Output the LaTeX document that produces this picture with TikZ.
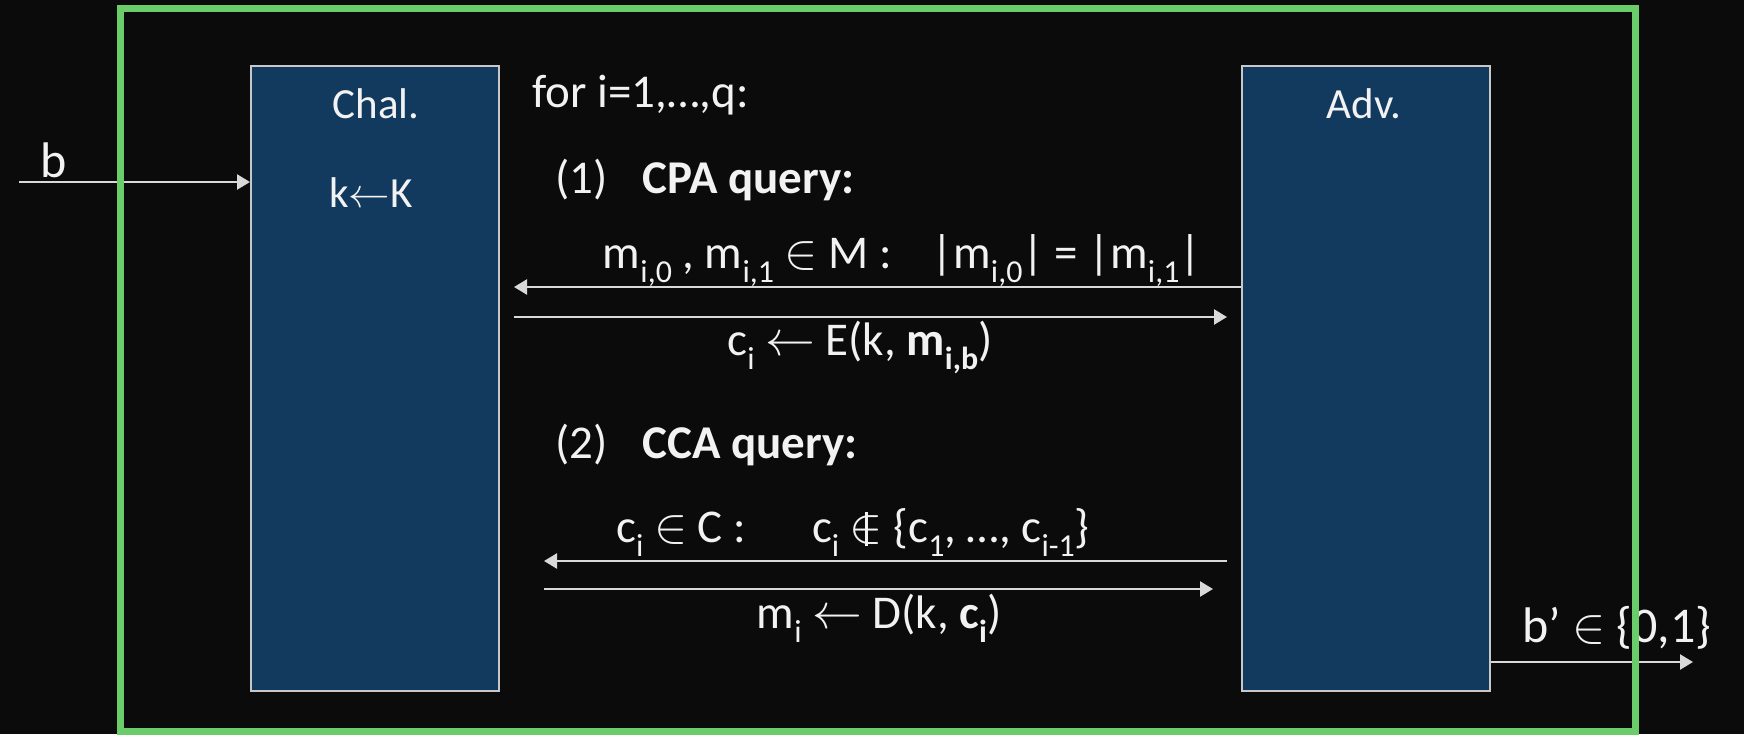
\documentclass[tikz,border=0pt]{standalone}
\usepackage{fontspec}
\setmainfont{Carlito}
\usepackage{graphicx}
\usetikzlibrary{arrows.meta}
\definecolor{bg}{HTML}{0B0B0B}
\definecolor{boxfill}{HTML}{123A5E}
\definecolor{boxline}{HTML}{C8C8C8}
\definecolor{framecol}{HTML}{6ACD6A}
\definecolor{fg}{HTML}{F2F2F2}
\definecolor{arr}{HTML}{D9D9D9}
\newcommand{\lsub}[1]{\raisebox{-0.3em}{\scalebox{0.68}{#1}}}
\newcommand{\vnotin}{\ooalign{$\in$\cr\hidewidth\rule[-0.08em]{0.05em}{0.72em}\hidewidth\cr}}
\begin{document}
\begin{tikzpicture}[x=0.5pt,y=-0.5pt,
  party/.style={draw=boxline, line width=1pt, fill=boxfill, minimum width=124pt, minimum height=312.5pt, inner sep=0pt},
  lbl/.style={text=fg, inner sep=0pt, font=\fontsize{21.5pt}{26pt}\selectfont},
  txt/.style={text=fg, inner sep=0pt, font=\fontsize{23.5pt}{28pt}\selectfont},
  txtb/.style={text=fg, inner sep=0pt, font=\fontsize{23.5pt}{28pt}\selectfont\bfseries},
  big/.style={text=fg, inner sep=0pt, font=\fontsize{25pt}{30pt}\selectfont},
  msg/.style={draw=arr, line width=1.2pt, -{Triangle[length=6.5pt,width=7.5pt]}},
  greenframe/.style={draw=framecol, line width=3.5pt, minimum width=757.5pt, minimum height=361.5pt, inner sep=0pt}]
\useasboundingbox (0,0) rectangle (1744,734);
\fill[bg] (0,0) rectangle (1744,734);

\node[party] (chal) at (375,378.5) {};
\node[party] (adv) at (1366,378.5) {};
\node[lbl, anchor=base] (chalname) at (376,118) {Chal.};
\node[lbl, anchor=base] (key) at (371,207) {k$\leftarrow$K};
\node[lbl, anchor=base] (advname) at (1364,118) {Adv.};

\node[txt, anchor=base west] (loop) at (532,107) {for i=1,…,q:};
\node[txt, anchor=base west] (n1) at (555,193) {(1)};
\node[txtb, anchor=base west] (cpa) at (642,193) {CPA query:};
\node[txt, anchor=base] (m1) at (902,268) {m\lsub{i,0} , m\lsub{i,1} $\in$ M :\hspace{0.85em}|m\lsub{i,0}| = |m\lsub{i,1}|};
\node[txt, anchor=base] (c1) at (860,355) {c\lsub{i} $\leftarrow$ E(k, \textbf{m\lsub{i,b}})};
\node[txt, anchor=base west] (n2) at (555,458) {(2)};
\node[txtb, anchor=base west] (cca) at (642,458) {CCA query:};
\node[txt, anchor=base] (c2) at (853,542) {c\lsub{i} $\in$ C :\hspace{1.4em}c\lsub{i} \vnotin\ \{c\lsub{1}, …, c\lsub{i-1}\}};
\node[txt, anchor=base] (m2) at (879,628) {m\lsub{i} $\leftarrow$ D(k, \textbf{c\lsub{i}})};
\node[big, anchor=base west] (bin) at (40,177) {b};
\node[big, anchor=base west] (bout) at (1522,642) {b’ $\in$ \{0,1\}};

\coordinate (bstart) at (19,182);
\draw[msg] (bstart) -- (bstart -| chal.west);
\coordinate (q1end) at (514,287);
\draw[msg] (q1end -| adv.west) -- (q1end);
\coordinate (a1s) at (514,317);
\coordinate (a1e) at (1227,317);
\draw[msg] (a1s) -- (a1e);
\coordinate (q2s) at (1227,561);
\coordinate (q2e) at (544,561);
\draw[msg] (q2s) -- (q2e);
\coordinate (a2s) at (544,589);
\coordinate (a2e) at (1213,589);
\draw[msg] (a2s) -- (a2e);
\coordinate (boutend) at (1693,662);
\draw[msg] (boutend -| adv.east) -- (boutend);

\node[greenframe] (game) at (877.5,369.5) {};
\end{tikzpicture}
\end{document}
